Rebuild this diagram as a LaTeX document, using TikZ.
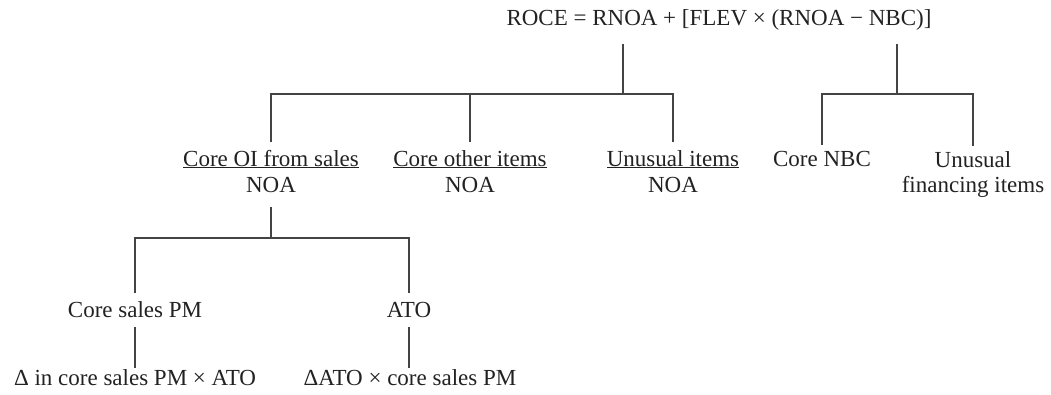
\documentclass[tikz,border=0pt]{standalone}
\usepackage{fontspec}
\setmainfont{Liberation Serif}
\definecolor{ink}{HTML}{222222}
\definecolor{linec}{HTML}{444444}
\begin{document}
\begin{tikzpicture}[x=1pt,y=-1pt,
  lbl/.style={inner sep=0pt, text height=16pt, text depth=5pt, anchor=base,
    text=ink, font=\fontsize{23}{28}\selectfont},
  conn/.style={draw=linec, line width=1.3pt}]
\useasboundingbox (0,0) rectangle (1051,394);
% nodes
\node[lbl] (root) at (719,25) {ROCE = RNOA + [FLEV × (RNOA − NBC)]};
\node[lbl] (oi)   at (271,166) {\underline{Core OI from sales}};
\node[lbl] (oin)  at (271,192) {NOA};
\node[lbl] (oth)  at (470,166) {\underline{Core other items}};
\node[lbl] (othn) at (470,192) {NOA};
\node[lbl] (unu)  at (673,166) {\underline{Unusual items}};
\node[lbl] (unun) at (673,192) {NOA};
\node[lbl] (nbc)  at (822,166) {Core NBC};
\node[lbl] (unf)  at (973,167) {Unusual};
\node[lbl] (unf2) at (973,192) {financing items};
\node[lbl] (csp)  at (135,317) {Core sales PM};
\node[lbl] (ato)  at (409,317) {ATO};
\node[lbl] (d1)   at (135,385) {Δ in core sales PM × ATO};
\node[lbl] (d2)   at (410,385) {ΔATO × core sales PM};
% junctions
\coordinate (j1) at (623,94);
\coordinate (j2) at (897,94);
\coordinate (j3) at (271,238);
% connectors
\draw[conn, shorten <=14pt] (root.south -| j1) -- (j1);
\draw[conn, shorten <=14pt] (root.south -| j2) -- (j2);
\draw[conn, shorten <=8pt, shorten >=8pt] (oi.north) -- (oi.north |- j1) -- (unu.north |- j1) -- (unu.north);
\draw[conn, shorten >=8pt] (oth.north |- j1) -- (oth.north);
\draw[conn, shorten <=5pt, shorten >=5pt] (nbc.north) -- (nbc.north |- j2) -- (unf.north |- j2) -- (unf.north);
\draw[conn, shorten <=10pt] (oin.south) -- (j3);
\draw[conn, shorten <=8pt, shorten >=8pt] (csp.north) -- (csp.north |- j3) -- (ato.north |- j3) -- (ato.north);
\draw[conn, shorten <=5pt, shorten >=1pt] (csp.south) -- (d1.north);
\draw[conn, shorten <=5pt, shorten >=1pt] (ato.south) -- (ato.south |- d2.north);
\end{tikzpicture}
\end{document}
